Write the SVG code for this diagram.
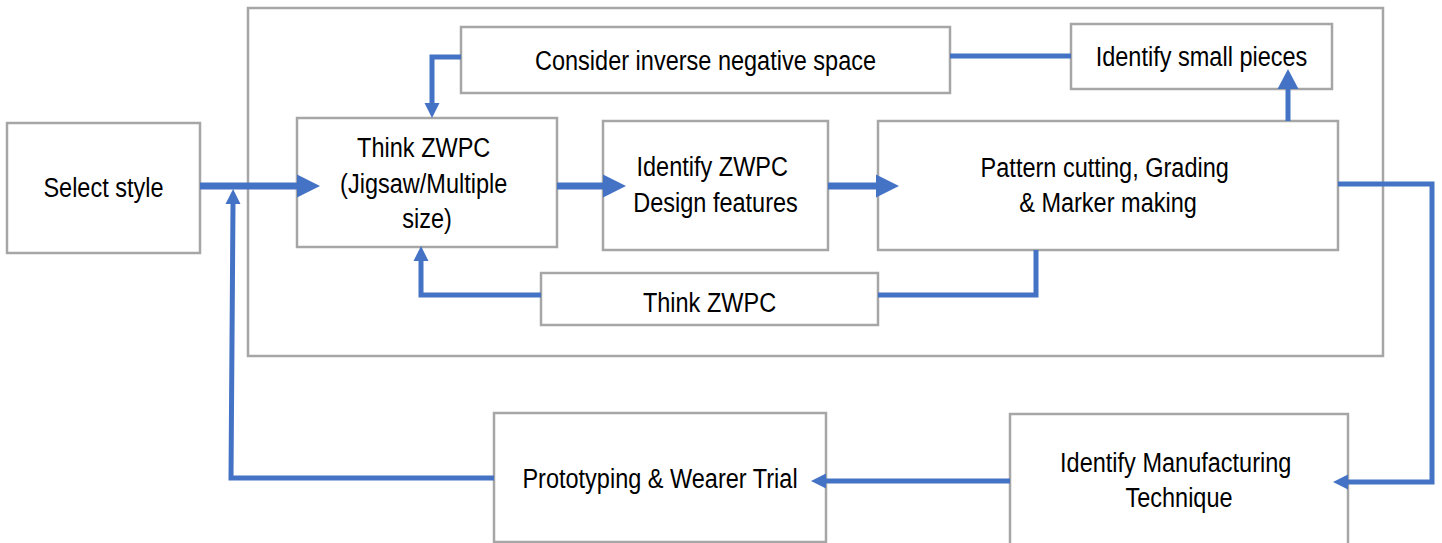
<svg xmlns="http://www.w3.org/2000/svg" width="1442" height="543" viewBox="0 0 1442 543">
  <style>
    .box { fill: #ffffff; stroke: #A6A6A6; stroke-width: 2.5; }
    .frame { fill: none; stroke: #A6A6A6; stroke-width: 2.5; }
    .lbl { font-family: "Liberation Sans", Arial, sans-serif; font-size: 28px; fill: #000000; text-anchor: middle; }
    .flow { fill: none; stroke: #4472C4; stroke-width: 7; }
    .link { fill: none; stroke: #4472C4; stroke-width: 5; }
  </style>
  <defs>
    <marker id="arrowLg" markerUnits="userSpaceOnUse" markerWidth="24" markerHeight="24" viewBox="0 -12 24 24" refX="0" refY="0" orient="auto">
      <path d="M0,-11.5 L23,0 L0,11.5 z" fill="#4472C4"/>
    </marker>
    <marker id="arrowMd" markerUnits="userSpaceOnUse" markerWidth="22" markerHeight="22" viewBox="0 -11 22 22" refX="0" refY="0" orient="auto">
      <path d="M0,-10.5 L20,0 L0,10.5 z" fill="#4472C4"/>
    </marker>
    <marker id="arrowSm" markerUnits="userSpaceOnUse" markerWidth="16" markerHeight="16" viewBox="0 -8 16 16" refX="0" refY="0" orient="auto">
      <path d="M0,-7.5 L15,0 L0,7.5 z" fill="#4472C4"/>
    </marker>
  </defs>

  <rect width="1442" height="543" fill="#ffffff"/>

  <!-- design-stage frame -->
  <rect id="design-frame" class="frame" x="248" y="8" width="1135" height="348"/>

  <g id="select-style">
    <rect class="box" x="7" y="123" width="193" height="130"/>
    <text class="lbl" transform="translate(103.5,197) scale(0.84,1)" x="0" y="0">Select style</text>
  </g>

  <g id="think-zwpc">
    <rect class="box" x="297" y="118" width="260" height="129"/>
    <text class="lbl" transform="translate(427,157) scale(0.84,1)">
      <tspan x="0" y="0">Think ZWPC</tspan>
      <tspan x="0" y="36">(Jigsaw/Multiple</tspan>
      <tspan x="0" y="71">size)</tspan>
    </text>
  </g>

  <g id="identify-features">
    <rect class="box" x="603" y="121" width="225" height="129"/>
    <text class="lbl" transform="translate(715.5,176) scale(0.84,1)">
      <tspan x="0" y="0">Identify ZWPC</tspan>
      <tspan x="0" y="36">Design features</tspan>
    </text>
  </g>

  <g id="pattern-cutting">
    <rect class="box" x="878" y="121" width="460" height="129"/>
    <text class="lbl" transform="translate(1108,177) scale(0.84,1)">
      <tspan x="0" y="0">Pattern cutting, Grading</tspan>
      <tspan x="0" y="35">&amp; Marker making</tspan>
    </text>
  </g>

  <g id="negative-space">
    <rect class="box" x="461" y="27" width="489" height="66"/>
    <text class="lbl" transform="translate(705.5,70) scale(0.84,1)" x="0" y="0">Consider inverse negative space</text>
  </g>

  <g id="small-pieces">
    <rect class="box" x="1071" y="24" width="261" height="65"/>
    <text class="lbl" transform="translate(1201.5,66) scale(0.84,1)" x="0" y="0">Identify small pieces</text>
  </g>

  <g id="think-zwpc-loop">
    <rect class="box" x="541" y="273" width="337" height="52"/>
    <text class="lbl" transform="translate(709.5,312) scale(0.84,1)" x="0" y="0">Think ZWPC</text>
  </g>

  <g id="manufacturing">
    <rect class="box" x="1010" y="414" width="338" height="140"/>
    <text class="lbl" transform="translate(1179,472) scale(0.84,1)">
      <tspan x="0" y="0">Identify Manufacturing</tspan>
      <tspan x="0" y="35">Technique</tspan>
    </text>
  </g>

  <g id="prototyping">
    <rect class="box" x="494" y="413" width="332" height="129"/>
    <text class="lbl" transform="translate(660,488) scale(0.84,1)" x="0" y="0">Prototyping &amp; Wearer Trial</text>
  </g>

  <g id="connectors">
    <path class="flow" d="M200,186 H297" marker-end="url(#arrowLg)"/>
    <path class="flow" d="M557,186 H603" marker-end="url(#arrowLg)"/>
    <path class="flow" d="M828,186 H876" marker-end="url(#arrowLg)"/>
    <path class="link" d="M1338,184 H1432 V482 H1348" marker-end="url(#arrowSm)"/>
    <path class="link" d="M1010,481 H826" marker-end="url(#arrowSm)"/>
    <path class="link" d="M494,478 H231 L233,204" marker-end="url(#arrowSm)"/>
    <path class="link" d="M461,57 H432 V103" marker-end="url(#arrowSm)"/>
    <path class="link" d="M950,56 H1071"/>
    <path class="link" d="M1288,121 V89" stroke-width="6" marker-end="url(#arrowMd)"/>
    <path class="link" d="M1036,250 V295 H878"/>
    <path class="link" d="M541,295 H421 V261" marker-end="url(#arrowSm)"/>
  </g>
</svg>
